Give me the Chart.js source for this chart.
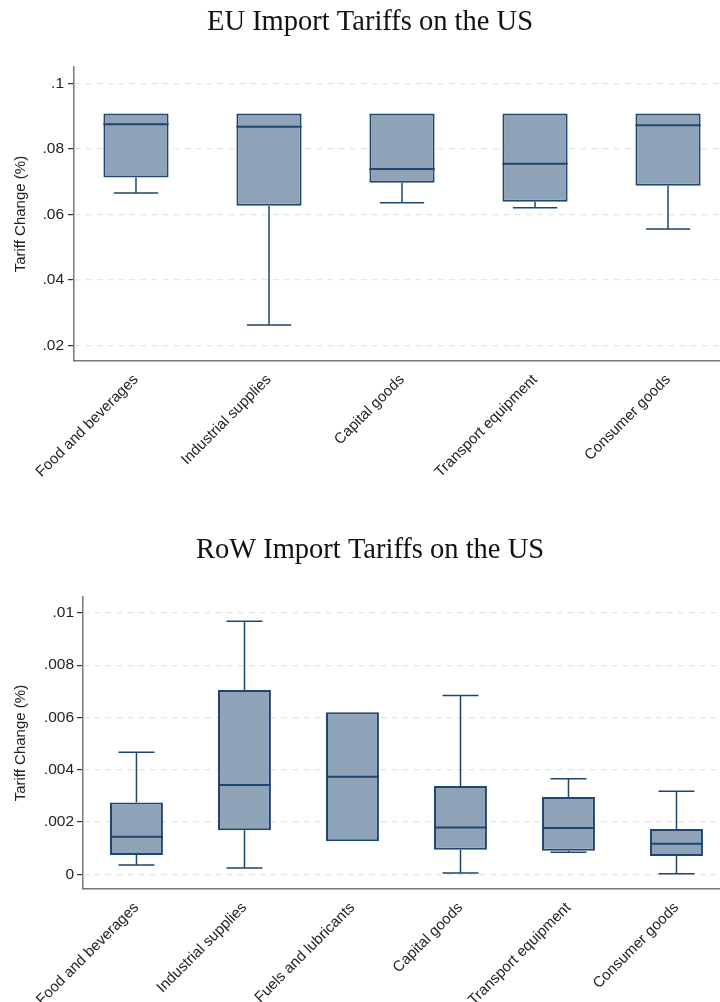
<!DOCTYPE html>
<html>
<head>
<meta charset="utf-8">
<script src="https://cdn.jsdelivr.net/npm/chart.js@4/dist/chart.umd.min.js"></script>
<style>
  html, body { margin: 0; padding: 0; background: #fff; width: 720px; height: 1002px; overflow: hidden; }
  .panel { position: absolute; left: 0; width: 740px; }
  #eu-panel { top: 0; height: 480px; }
  #row-panel { top: 520px; height: 482px; }
</style>
</head>
<body>
<div class="panel" id="eu-panel"><canvas id="eu-tariffs"></canvas></div>
<div class="panel" id="row-panel"><canvas id="row-tariffs"></canvas></div>
<script>
// EU tariffs on US imports, by end-use category
const euCategories = ["Food and beverages", "Industrial supplies", "Capital goods", "Transport equipment", "Consumer goods"];
const euMin = [0.0666, 0.0263, 0.0636, 0.0621, 0.0556];
const euQ1 = [0.0713, 0.0627, 0.0697, 0.0639, 0.0688];
const euMedian = [0.0876, 0.0868, 0.0739, 0.0755, 0.0873];
const euQ3 = [0.0909, 0.0909, 0.0909, 0.0909, 0.0909];
const euMax = [0.0909, 0.0909, 0.0909, 0.0909, 0.0909];
const euTicks = [0.02, 0.04, 0.06, 0.08, 0.1];
const euTickLabels = [".02", ".04", ".06", ".08", ".1"];

// rest of world tariffs on US imports
const rowCategories = ["Food and beverages", "Industrial supplies", "Fuels and lubricants", "Capital goods", "Transport equipment", "Consumer goods"];
const rowMin = [0.00036, 0.00024, 0.00127, 0.00005, 0.00085, 0.00002];
const rowQ1 = [0.00074, 0.00169, 0.00127, 0.00094, 0.00090, 0.00070];
const rowMedian = [0.00144, 0.00342, 0.00373, 0.00179, 0.00177, 0.00117];
const rowQ3 = [0.00275, 0.00705, 0.00620, 0.00338, 0.00296, 0.00173];
const rowMax = [0.00467, 0.00968, 0.00620, 0.00684, 0.00366, 0.00318];
const rowTicks = [0, 0.002, 0.004, 0.006, 0.008, 0.01];
const rowTickLabels = ["0", ".002", ".004", ".006", ".008", ".01"];

const BOX_FILL = "rgb(142, 163, 183)";
const BOX_LINE = "rgb(30, 70, 112)";
const SANS = "'Liberation Sans', Arial, sans-serif";
const SERIF = "'Liberation Serif', 'Times New Roman', serif";

// draws median line and whiskers on top of the floating q1-q3 bars
function boxWhiskerPlugin(min, q1, median, q3, max) {
  return {
    id: "boxWhiskers",
    afterDatasetsDraw(chart) {
      const { ctx } = chart;
      const yScale = chart.scales.y;
      const bars = chart.getDatasetMeta(0).data;
      ctx.save();
      ctx.strokeStyle = BOX_LINE;
      bars.forEach((bar, i) => {
        const half = bar.width / 2;
        const cap = bar.width * 0.34;
        const top = Math.min(bar.y, bar.base);
        const bottom = Math.max(bar.y, bar.base);
        const yMax = yScale.getPixelForValue(max[i]);
        const yMin = yScale.getPixelForValue(min[i]);
        const yMed = yScale.getPixelForValue(median[i]);

        ctx.lineWidth = 1.5;
        ctx.beginPath();
        if (max[i] > q3[i]) {
          ctx.moveTo(bar.x, top);
          ctx.lineTo(bar.x, yMax);
          ctx.moveTo(bar.x - cap, yMax);
          ctx.lineTo(bar.x + cap, yMax);
        }
        if (min[i] < q1[i]) {
          ctx.moveTo(bar.x, bottom);
          ctx.lineTo(bar.x, yMin);
          ctx.moveTo(bar.x - cap, yMin);
          ctx.lineTo(bar.x + cap, yMin);
        }
        ctx.stroke();

        ctx.lineWidth = 2;
        ctx.beginPath();
        ctx.moveTo(bar.x - half, yMed);
        ctx.lineTo(bar.x + half, yMed);
        ctx.stroke();
      });
      ctx.restore();
    },
  };
}

function renderBoxChart(cfg) {
  const ticks = cfg.ticks;
  const labels = cfg.tickLabels;
  const categories = cfg.categories;

  return new Chart(document.getElementById(cfg.canvasId), {
    type: "bar",
    data: {
      datasets: [
        {
          data: cfg.q1.map((q, i) => ({ x: i, y: [q, cfg.q3[i]] })),
          backgroundColor: BOX_FILL,
          borderColor: BOX_LINE,
          borderWidth: 2,
          borderSkipped: false,
          categoryPercentage: 1,
          barPercentage: 0.49,
        },
      ],
    },
    options: {
      animation: false,
      responsive: true,
      maintainAspectRatio: false,
      layout: { padding: 0 },
      plugins: {
        legend: { display: false },
        tooltip: { enabled: false },
        title: {
          display: true,
          text: cfg.title,
          color: "#111",
          font: { family: SERIF, size: 28.5, weight: "normal" },
          padding: cfg.titlePadding,
        },
      },
      scales: {
        x: {
          type: "linear",
          offset: false,
          min: cfg.xMin,
          max: cfg.xMax,
          afterBuildTicks: (axis) => {
            axis.ticks = categories.map((_, i) => ({ value: i }));
          },
          afterFit: (axis) => {
            axis.height = cfg.xAxisHeight;
          },
          grid: { display: false, offset: false },
          border: { color: "#777", width: 1.5 },
          ticks: {
            autoSkip: false,
            minRotation: 45,
            maxRotation: 45,
            padding: 2,
            color: "#222",
            font: { family: SANS, size: 15 },
            callback: (v) => categories[v],
          },
        },
        y: {
          min: cfg.yMin,
          max: cfg.yMax,
          afterBuildTicks: (axis) => {
            axis.ticks = ticks.map((v) => ({ value: v }));
          },
          afterFit: (axis) => {
            axis.width = cfg.yAxisWidth;
          },
          grid: {
            color: "#e6e6e6",
            lineWidth: 1.2,
            tickLength: 6,
            tickColor: "#333",
            tickWidth: 1.2,
          },
          border: { color: "#777", width: 1.5, dash: [6, 5] },
          ticks: {
            padding: cfg.yTickPadding,
            color: "#222",
            font: { family: SANS, size: 15.5 },
            callback: (v) => labels[ticks.indexOf(v)],
          },
          title: {
            display: true,
            text: "Tariff Change (%)",
            color: "#222",
            font: { family: SANS, size: 15 },
            padding: { top: 12, bottom: 0 },
          },
        },
      },
    },
    plugins: [boxWhiskerPlugin(cfg.min, cfg.q1, cfg.median, cfg.q3, cfg.max)],
  });
}

renderBoxChart({
  canvasId: "eu-tariffs",
  title: "EU Import Tariffs on the US",
  titlePadding: { top: 5, bottom: 28 },
  categories: euCategories,
  min: euMin,
  q1: euQ1,
  median: euMedian,
  q3: euQ3,
  max: euMax,
  ticks: euTicks,
  tickLabels: euTickLabels,
  yMin: 0.0153,
  yMax: 0.105,
  xMin: -0.466,
  xMax: 4.541,
  yAxisWidth: 74,
  yTickPadding: 4,
  xAxisHeight: 119,
});

renderBoxChart({
  canvasId: "row-tariffs",
  title: "RoW Import Tariffs on the US",
  titlePadding: { top: 13, bottom: 30 },
  categories: rowCategories,
  min: rowMin,
  q1: rowQ1,
  median: rowMedian,
  q3: rowQ3,
  max: rowMax,
  ticks: rowTicks,
  tickLabels: rowTickLabels,
  yMin: -0.00056,
  yMax: 0.0106,
  xMin: -0.495,
  xMax: 5.588,
  yAxisWidth: 83,
  yTickPadding: 3,
  xAxisHeight: 113,
});
</script>
</body>
</html>
